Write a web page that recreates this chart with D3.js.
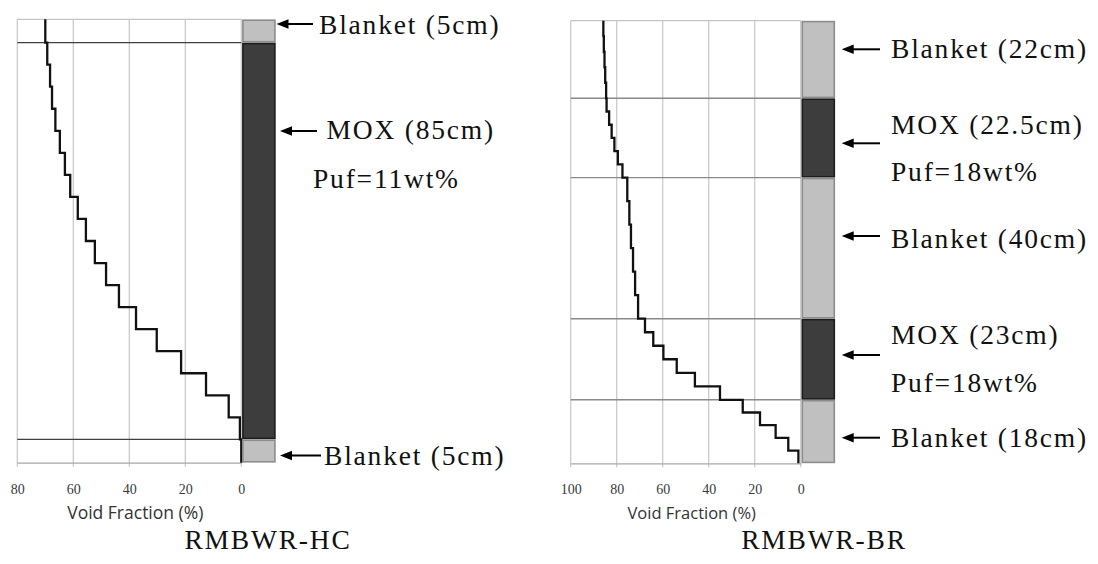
<!DOCTYPE html>
<html>
<head>
<meta charset="utf-8">
<script src="https://cdn.jsdelivr.net/npm/d3@7"></script>
<style>
  html, body { margin: 0; padding: 0; background: #fff; }
  svg { display: block; }
  .serif { font-family: "Liberation Serif", "DejaVu Serif", serif; }
  .sans { font-family: "Open Sans", "Liberation Sans", sans-serif; }
</style>
</head>
<body>
<svg id="fig" width="1098" height="564"></svg>
<script>
// ---------------- RMBWR-HC core ----------------
const hcTicks = [80, 60, 40, 20, 0];
const hcZoneTypes = ["Blanket", "MOX", "Blanket"];       // top to bottom
const hcZoneHeights = [5, 85, 5];                         // cm
const hcZoneNodes = [1, 18, 1];                           // axial nodes per zone
const hcVoid = [                                          // void fraction (%) per node, top to bottom
  70.0,
  69.3, 68.3, 67.6, 66.4, 64.8, 63.0, 61.1, 58.4, 55.5,
  52.3, 48.3, 43.7, 37.6, 30.2, 21.5, 12.6, 4.5, 0.5,
  0.0
];
const hcLabels = [["Blanket (5cm)"], ["MOX (85cm)", "Puf=11wt%"], ["Blanket (5cm)"]];
const hcCaption = "RMBWR-HC";

// ---------------- RMBWR-BR core ----------------
const brTicks = [100, 80, 60, 40, 20, 0];
const brZoneTypes = ["Blanket", "MOX", "Blanket", "MOX", "Blanket"];
const brZoneHeights = [22, 22.5, 40, 23, 18];
const brZoneNodes = [5, 6, 6, 6, 5];
const brVoid = [
  85.8, 85.6, 85.3, 85.0, 84.6,
  84.4, 83.3, 82.2, 81.0, 79.5, 77.5,
  75.4, 74.5, 73.8, 72.9, 72.0, 70.7,
  67.7, 64.1, 59.7, 53.9, 46.0, 35.1,
  25.2, 17.7, 10.9, 5.4, 1.0
];
const brLabels = [["Blanket (22cm)"], ["MOX (22.5cm)", "Puf=18wt%"], ["Blanket (40cm)"],
                  ["MOX (23cm)", "Puf=18wt%"], ["Blanket (18cm)"]];
const brCaption = "RMBWR-BR";

const axisTitle = "Void Fraction (%)";

// ---------------- layout ----------------
const panels = [
  {
    ticks: hcTicks, types: hcZoneTypes, heights: hcZoneHeights, nodes: hcZoneNodes,
    voids: hcVoid, labels: hcLabels, caption: hcCaption,
    left: 17.3, right: 241.3, top: 19.3, bottom: 462.7,
    boundary: "#404040", boundaryWidth: 1.1,
    captionX: 268, titleSize: 17.5,
    notes: [
      { ay: 24,    ax0: 276.5, ax1: 313, lines: [{ x: 319,   y: 33.5 }] },
      { ay: 131,   ax0: 280,   ax1: 317, lines: [{ x: 326.5, y: 138.5 }, { x: 313, y: 188 }] },
      { ay: 455.5, ax0: 280,   ax1: 321, lines: [{ x: 324,   y: 465 }] }
    ]
  },
  {
    ticks: brTicks, types: brZoneTypes, heights: brZoneHeights, nodes: brZoneNodes,
    voids: brVoid, labels: brLabels, caption: brCaption,
    left: 570.7, right: 800.7, top: 20.7, bottom: 463.3,
    boundary: "#8a8a8a", boundaryWidth: 1.4,
    captionX: 824, titleSize: 16.5,
    notes: [
      { ay: 49.3,  ax0: 841.7, ax1: 880, lines: [{ x: 891, y: 57.5 }] },
      { ay: 143.3, ax0: 841.7, ax1: 880, lines: [{ x: 891, y: 133.5 }, { x: 891, y: 180.5 }] },
      { ay: 236,   ax0: 841.7, ax1: 880, lines: [{ x: 891, y: 248 }] },
      { ay: 355,   ax0: 841.7, ax1: 880, lines: [{ x: 891, y: 343.5 }, { x: 891, y: 391.5 }] },
      { ay: 437.7, ax0: 841.7, ax1: 880, lines: [{ x: 891, y: 446.5 }] }
    ]
  }
];

const svg = d3.select("#fig");
svg.append("rect").attr("width", 1098).attr("height", 564).attr("fill", "#fff");

panels.forEach(p => {
  const total = d3.sum(p.heights);
  const x = d3.scaleLinear().domain([d3.max(p.ticks), 0]).range([p.left, p.right]);
  const y = d3.scaleLinear().domain([0, total]).range([p.bottom, p.top]);
  const g = svg.append("g");

  // zone extents (elevation, cm) from the top down
  let acc = total;
  const zones = p.heights.map((h, i) => {
    const z = { type: p.types[i], hi: acc, lo: acc - h, n: p.nodes[i], label: p.labels[i] };
    acc -= h;
    return z;
  });

  // vertical gridlines
  g.selectAll(".grid").data(p.ticks).join("line")
    .attr("x1", d => x(d)).attr("x2", d => x(d))
    .attr("y1", y(total)).attr("y2", y(0) + 4)
    .attr("stroke", "#cbcbcb").attr("stroke-width", 1.3);

  // top frame line
  g.append("line")
    .attr("x1", x.range()[0]).attr("x2", x.range()[1])
    .attr("y1", y(total)).attr("y2", y(total))
    .attr("stroke", "#c4c4c4").attr("stroke-width", 1.3);

  // zone boundaries across the plot
  g.selectAll(".bnd").data(zones.slice(1)).join("line")
    .attr("x1", x.range()[0]).attr("x2", x.range()[1])
    .attr("y1", d => y(d.hi)).attr("y2", d => y(d.hi))
    .attr("stroke", p.boundary).attr("stroke-width", p.boundaryWidth);

  // bottom axis
  const axis = d3.axisBottom(x).tickValues(p.ticks).tickSize(0).tickPadding(21)
    .tickFormat(d3.format("d"));
  const ax = g.append("g").attr("transform", `translate(0,${y(0)})`).call(axis);
  ax.attr("font-family", null).attr("font-size", null);
  ax.select(".domain").attr("stroke", "#a8a8a8").attr("stroke-width", 1.3);
  ax.selectAll("text")
    .attr("class", "serif").style("font-size", "14px").attr("fill", "#3a3a3a");

  g.append("text")
    .attr("class", "sans")
    .attr("x", (x.range()[0] + x.range()[1]) / 2 + 6).attr("y", 519)
    .attr("text-anchor", "middle")
    .style("font-size", p.titleSize + "px").attr("fill", "#333")
    .text(axisTitle);

  // stepwise axial void profile
  const pts = [];
  let k = 0;
  zones.forEach(z => {
    const dz = (z.hi - z.lo) / z.n;
    for (let j = 0; j < z.n; j++, k++) {
      const v = p.voids[k];
      pts.push([v, z.hi - j * dz], [v, z.hi - (j + 1) * dz]);
    }
  });
  g.append("path")
    .attr("d", d3.line().x(d => x(d[0])).y(d => y(d[1]))(pts))
    .attr("fill", "none").attr("stroke", "#111").attr("stroke-width", 2.3)
    .attr("stroke-linejoin", "miter");

  // fuel rod column
  const bx = x(0) + 1.6, bw = 32;
  g.selectAll(".zone").data(zones).join("rect")
    .attr("x", bx).attr("width", bw)
    .attr("y", d => y(d.hi) + 0.9)
    .attr("height", d => y(d.lo) - y(d.hi) - 1.8)
    .attr("fill", d => d.type === "MOX" ? "#3d3d3d" : "#c0c0c0")
    .attr("stroke", d => d.type === "MOX" ? "#1c1c1c" : "#8c8c8c")
    .attr("stroke-width", 1.6);

  // arrows and zone descriptions
  zones.forEach((z, i) => {
    const n = p.notes[i];
    g.append("line")
      .attr("x1", n.ax0 + 9).attr("x2", n.ax1)
      .attr("y1", n.ay).attr("y2", n.ay)
      .attr("stroke", "#000").attr("stroke-width", 2);
    g.append("path")
      .attr("d", `M${n.ax0},${n.ay} L${n.ax0 + 12},${n.ay - 4.8} L${n.ax0 + 12},${n.ay + 4.8} Z`)
      .attr("fill", "#000");
    z.label.forEach((t, j) => {
      g.append("text")
        .attr("class", "serif")
        .attr("x", n.lines[j].x).attr("y", n.lines[j].y)
        .style("font-size", "27.5px").style("letter-spacing", "1.8px")
        .attr("fill", "#111")
        .text(t);
    });
  });

  // panel caption
  g.append("text")
    .attr("class", "serif")
    .attr("x", p.captionX).attr("y", 549)
    .attr("text-anchor", "middle")
    .style("font-size", "27.5px").style("letter-spacing", "1.8px")
    .attr("fill", "#111")
    .text(p.caption);
});
</script>
</body>
</html>
